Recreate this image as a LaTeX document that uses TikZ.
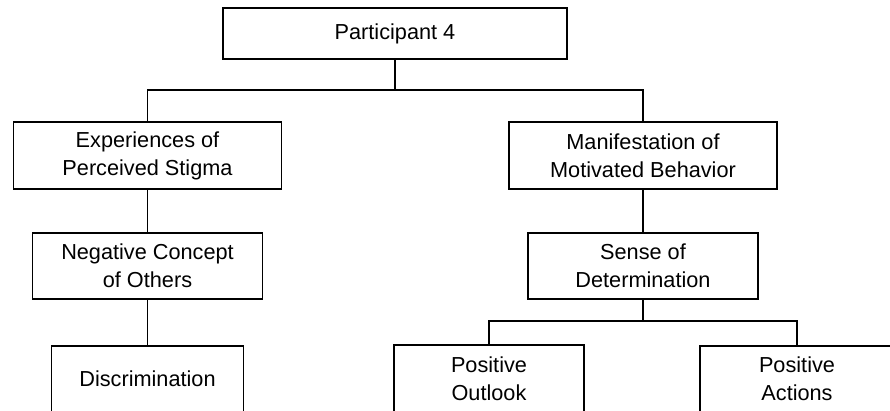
\documentclass[tikz,border=0pt]{standalone}
\usepackage{fontspec}
\setmainfont{Liberation Sans}
\begin{document}
\begin{tikzpicture}[x=1pt,y=-1pt,
  box/.style={draw=black,line width=1.8pt,fill=white,align=center,inner sep=0pt,
    font=\fontsize{21.7}{28}\selectfont,anchor=center},
  link/.style={draw=black,line width=1.8pt}]
\useasboundingbox (0,0) rectangle (890,410);
\fill[white] (0,0) rectangle (890,410);
\begin{scope}
\clip (0,0) rectangle (890,410);
% nodes
\node[box,minimum width=344pt,minimum height=51pt] (p4) at (395,33.5) {Participant 4};
\node[box,minimum width=268pt,minimum height=67pt] (exp) at (147.5,155.5) {Experiences of\\Perceived Stigma};
\node[box,minimum width=268pt,minimum height=67pt] (man) at (643,155.5) {Manifestation of\\Motivated Behavior};
\node[box,minimum width=230pt,minimum height=66pt] (neg) at (147.5,266) {Negative Concept\\of Others};
\node[box,minimum width=230pt,minimum height=66pt] (sod) at (643,266) {Sense of\\Determination};
\node[box,minimum width=192pt,minimum height=66pt] (dis) at (147.5,379) {Discrimination};
\node[box,minimum width=190pt,minimum height=67pt] (po) at (489,378.5) {Positive\\Outlook};
\node[box,minimum width=194pt,minimum height=66pt] (pa) at (797,379) {Positive\\Actions};
% connectors
\coordinate (bar1) at (395,90);
\coordinate (bar2) at (643,321);
\draw[link] (p4.south) -- (bar1);
\draw[link] (bar1) -| (exp.north);
\draw[link] (bar1) -| (man.north);
\draw[link] (exp.south) -- (neg.north);
\draw[link] (neg.south) -- (dis.north);
\draw[link] (man.south) -- (sod.north);
\draw[link] (sod.south) -- (bar2);
\draw[link] (bar2) -| (po.north);
\draw[link] (bar2) -| (pa.north);
\end{scope}
\end{tikzpicture}
\end{document}
